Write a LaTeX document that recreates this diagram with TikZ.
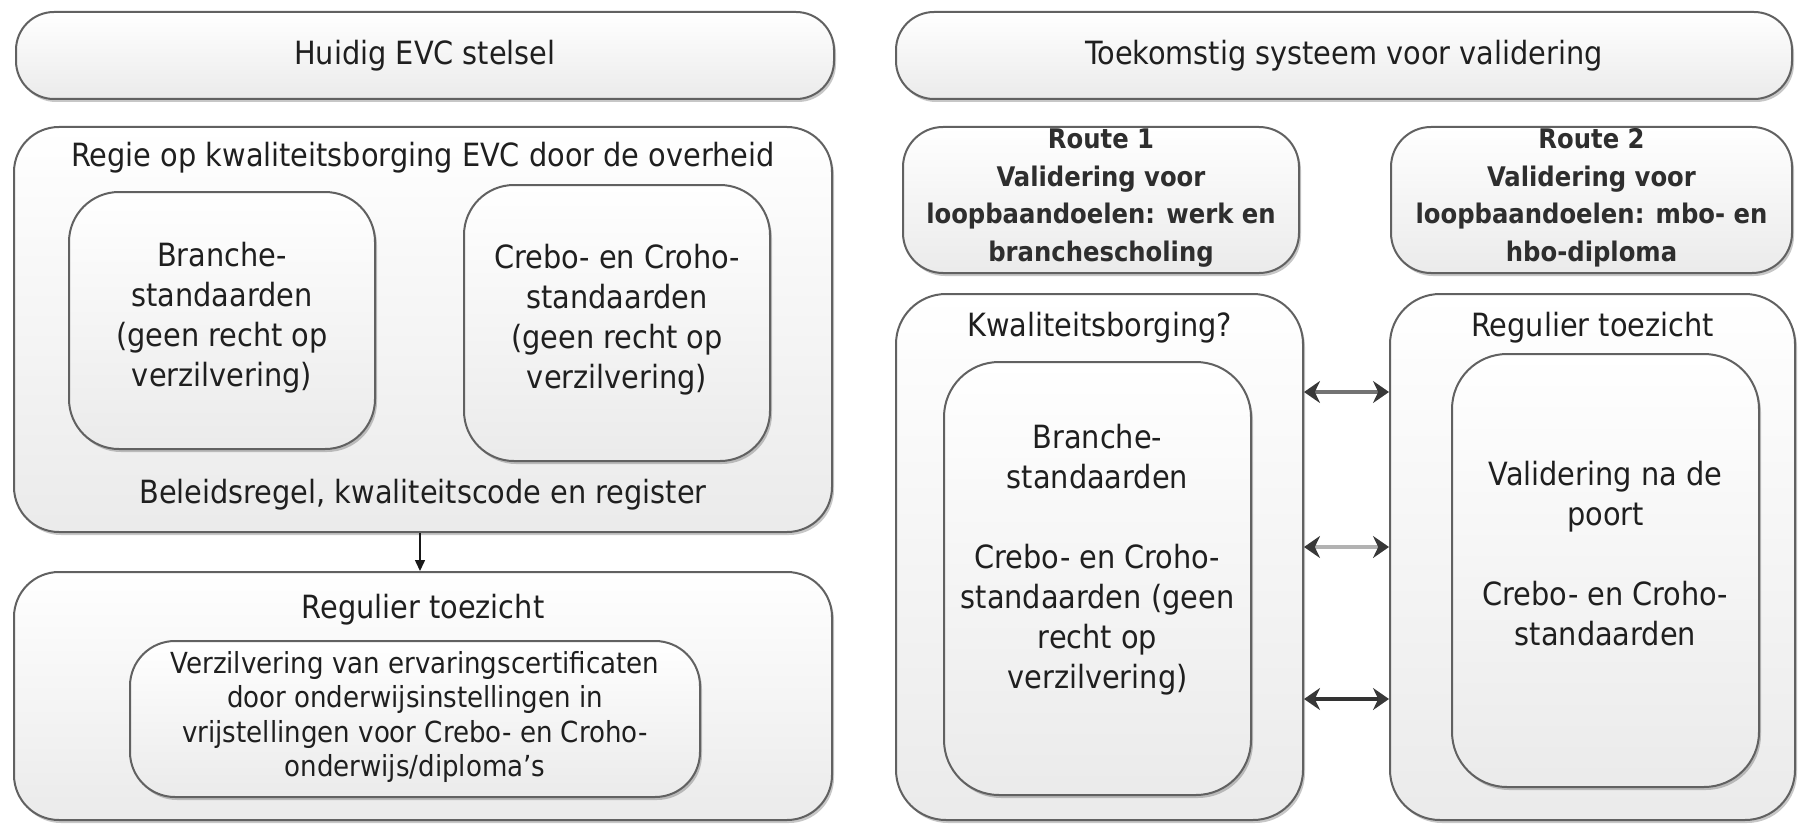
\documentclass[tikz,border=0pt]{standalone}
\usepackage{fontspec}
\setmainfont{DejaVu Sans Condensed}
\usetikzlibrary{arrows.meta,shadows}
\begin{document}
\begin{tikzpicture}[x=1pt,y=-1pt,
  box/.style={draw=black!62, line width=2pt, rounded corners=#1, top color=white, bottom color=black!8,
    drop shadow={shadow xshift=2pt, shadow yshift=-3pt, fill=black, opacity=0.22}, inner sep=0pt},
  box/.default=40pt,
  txt/.style={text=black!88, align=center, inner sep=0pt, font=\fontsize{32}{40}\selectfont},
  smalltxt/.style={text=black!88, align=center, inner sep=0pt, font=\fontsize{29}{34.5}\selectfont},
  routetxt/.style={text=black!82, align=center, inner sep=0pt, font=\bfseries\fontsize{27}{37.5}\selectfont},
  darr/.style={line width=4pt, draw=#1, {Stealth[length=16pt,width=22pt,color=black!78]}-{Stealth[length=16pt,width=22pt,color=black!78]}},
]
\useasboundingbox (0,0) rectangle (1806,824);

% left column
\node[box=38pt, minimum width=818pt, minimum height=87pt] (titleL) at (425,55.5) {};
\node[txt] (titleLt) at (titleL.center) {Huidig EVC stelsel};

\node[box=45pt, minimum width=818pt, minimum height=405pt] (regie) at (423,329.5) {};
\node[txt] (regiet) at (423,158) {Regie op kwaliteitsborging EVC door de overheid};
\node[txt] (regieb) at (423,495) {Beleidsregel, kwaliteitscode en register};

\node[box=50pt, minimum width=306pt, minimum height=257pt] (brL) at (222,320.5) {};
\node[txt] (brLt) at (222,318) {Branche-\\standaarden\\(geen recht op\\verzilvering)};

\node[box=50pt, minimum width=306pt, minimum height=276pt] (crL) at (617,323) {};
\node[txt] (crLt) at (617,320) {Crebo- en Croho-\\standaarden\\(geen recht op\\verzilvering)};

\node[box=45pt, minimum width=818pt, minimum height=248pt] (regL) at (423,696) {};
\node[txt] (regLt) at (423,610) {Regulier toezicht};

\node[box=45pt, minimum width=570pt, minimum height=156pt] (verz) at (415,719) {};
\node[smalltxt] (verzt) at (415,717) {Verzilvering van ervaringscertificaten\\door onderwijsinstellingen in\\vrijstellingen voor Crebo- en Croho-\\onderwijs/diploma's};

\draw[line width=1.5pt, black!90, -{Triangle[length=11pt,width=10pt]}] (regie.south -| 420,0) -- (regL.north -| 420,0);

% right column
\node[box=38pt, minimum width=896pt, minimum height=87pt] (titleR) at (1344,55.5) {};
\node[txt] (titleRt) at (titleR.center) {Toekomstig systeem voor validering};

\node[box=40pt, minimum width=396pt, minimum height=146pt] (r1) at (1101,200) {};
\node[routetxt] (r1t) at (1101,198) {Route 1\\Validering voor\\loopbaandoelen: werk en\\branchescholing};

\node[box=40pt, minimum width=401pt, minimum height=146pt] (r2) at (1591.5,200) {};
\node[routetxt] (r2t) at (1591.5,198) {Route 2\\Validering voor\\loopbaandoelen: mbo- en\\hbo-diploma};

\node[box=50pt, minimum width=407pt, minimum height=526pt] (kwal) at (1099.5,557) {};
\node[txt] (kwalt) at (1099.5,328) {Kwaliteitsborging?};

\node[box=55pt, minimum width=307pt, minimum height=433pt] (brR) at (1097.5,578.5) {};
\node[txt] (brRt) at (1097.5,560) {Branche-\\standaarden\\[40pt]Crebo- en Croho-\\standaarden (geen\\recht op\\verzilvering)};

\node[box=50pt, minimum width=405pt, minimum height=526pt] (regR) at (1592.5,557) {};
\node[txt] (regRt) at (1592.5,328) {Regulier toezicht};

\node[box=55pt, minimum width=307pt, minimum height=433pt] (val) at (1605.5,570.5) {};
\node[txt] (valt) at (1605.5,554) {Validering na de\\poort\\[40pt]Crebo- en Croho-\\standaarden};

\draw[darr=black!55] (kwal.east |- 0,392) -- (regR.west |- 0,392);
\draw[darr=black!30] (kwal.east |- 0,547) -- (regR.west |- 0,547);
\draw[darr=black!80] (kwal.east |- 0,699) -- (regR.west |- 0,699);
\end{tikzpicture}
\end{document}
